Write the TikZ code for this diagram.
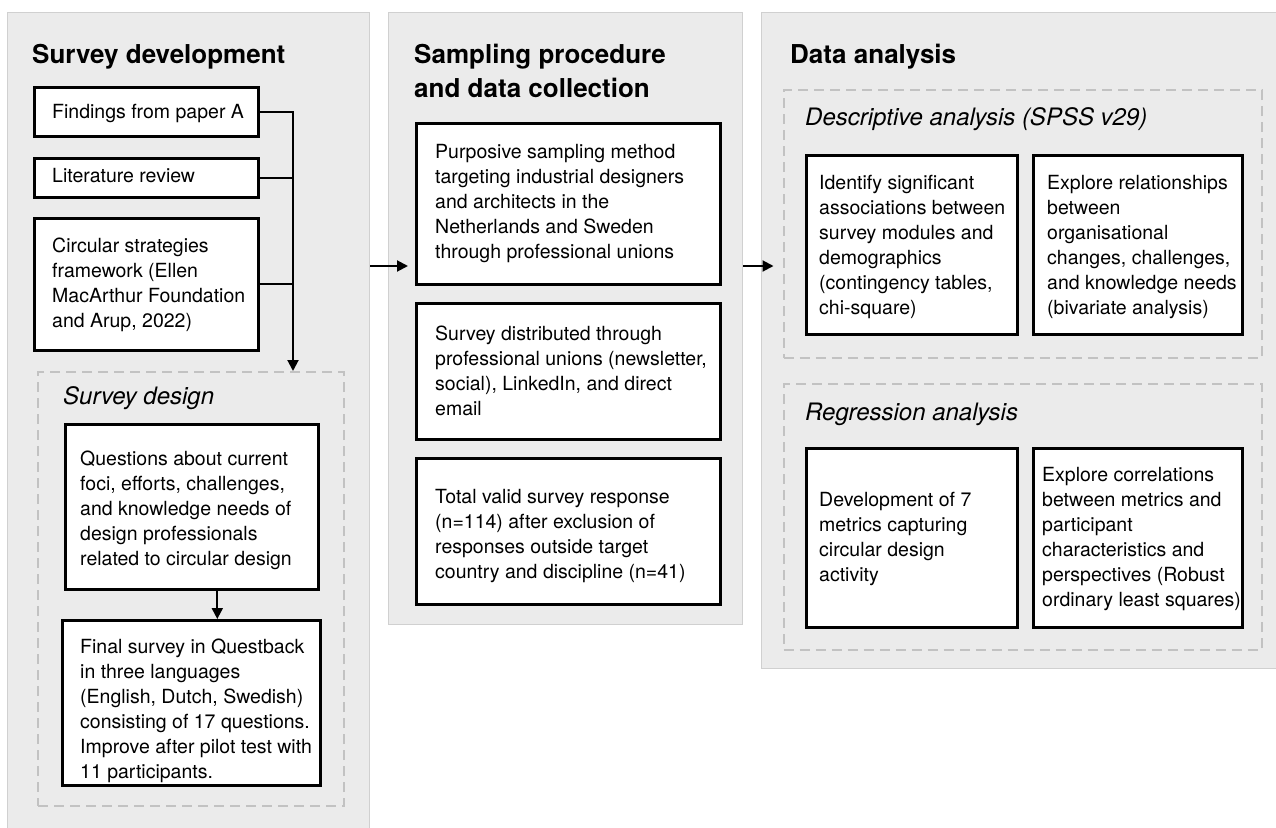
\documentclass[tikz,border=0pt]{standalone}
\usepackage{fontspec}
\setmainfont{TeX Gyre Heros}
\usetikzlibrary{arrows.meta}

\definecolor{panelfill}{HTML}{EBEBEB}
\definecolor{panelline}{HTML}{D0D0D0}
\definecolor{dashline}{HTML}{C2C2C2}

% stack of left-aligned lines whose baseline is the first line's baseline
\newcommand\linestack[1]{\vtop{\let\\\cr\halign{##\hfil\cr#1\crcr}}}

\begin{document}
\begin{tikzpicture}[x=1pt,y=-1pt,
  panelbox/.style={draw=panelline, line width=1.2pt, fill=panelfill, anchor=north west, inner sep=0pt},
  groupbox/.style={draw=dashline, line width=2pt, dash pattern=on 10pt off 6pt, anchor=north west, inner sep=0pt},
  stepbox/.style={draw=black, line width=2.6pt, fill=white, anchor=north west, inner sep=0pt},
  headtext/.style={font=\fontsize{26}{34}\selectfont\bfseries, anchor=base west, inner sep=0pt},
  subtext/.style={font=\fontsize{24}{28}\selectfont\itshape, anchor=base west, inner sep=0pt},
  bodytext/.style={font=\fontsize{19.5}{25}\selectfont, anchor=base west, inner sep=0pt},
  linkline/.style={line width=2pt, draw=black},
  arrowline/.style={linkline, -{Triangle[length=11pt,width=11pt]}}
]
\useasboundingbox (0,0) rectangle (1276,827);
\clip (0,0) rectangle (1276,827);
\fill[white] (0,0) rectangle (1276,827);

% ---- column panels ----
\node[panelbox, minimum width=362pt, minimum height=830pt] (P1) at (7,12) {};
\node[panelbox, minimum width=354pt, minimum height=612pt] (P2) at (388,12) {};
\node[panelbox, minimum width=520pt, minimum height=656pt] (P3) at (761,12) {};

\node[headtext] (h1) at (32,63) {Survey development};
\node[headtext] (h2) at (414,63) {\linestack{Sampling procedure\\and data collection}};
\node[headtext] (h3) at (790,63) {Data analysis};

% ---- survey development ----
\node[stepbox, minimum width=224pt, minimum height=49pt] (A) at (33,86) {};
\node[stepbox, minimum width=224pt, minimum height=39pt] (B) at (33,157) {};
\node[stepbox, minimum width=224pt, minimum height=132pt] (C) at (33,217) {};
\node[bodytext] (tA) at (52,118) {Findings from paper A};
\node[bodytext] (tB) at (52,182) {Literature review};
\node[bodytext] (tC) at (52,252) {\linestack{Circular strategies\\framework (Ellen\\MacArthur Foundation\\and Arup, 2022)}};

\node[groupbox, minimum width=306pt, minimum height=434pt] (SD) at (37,371) {};
\node[subtext] (sSD) at (63,404) {Survey design};
\node[stepbox, minimum width=253pt, minimum height=165pt] (Q) at (64,423) {};
\node[stepbox, minimum width=258pt, minimum height=165pt] (F) at (61,619) {};
\node[bodytext] (tQ) at (80,465) {\linestack{Questions about current\\foci, efforts, challenges,\\and knowledge needs of\\design professionals\\related to circular design}};
\node[bodytext] (tF) at (80,653) {\linestack{Final survey in Questback\\in three languages\\(English, Dutch, Swedish)\\consisting of 17 questions.\\Improve after pilot test with\\11 participants.}};

% ---- sampling procedure ----
\node[stepbox, minimum width=304pt, minimum height=161pt] (S1) at (415,122) {};
\node[stepbox, minimum width=304pt, minimum height=136pt] (S2) at (415,302) {};
\node[stepbox, minimum width=304pt, minimum height=146pt] (S3) at (415,457) {};
\node[bodytext] (tS1) at (435,158) {\linestack{Purposive sampling method\\targeting industrial designers\\and architects in the\\Netherlands and Sweden\\through professional unions}};
\node[bodytext] (tS2) at (435,340) {\linestack{Survey distributed through\\professional unions (newsletter,\\social), LinkedIn, and direct\\email}};
\node[bodytext] (tS3) at (435,503) {\linestack{Total valid survey response\\(n=114) after exclusion of\\responses outside target\\country and discipline (n=41)}};

% ---- data analysis ----
\node[groupbox, minimum width=478pt, minimum height=268pt] (DD) at (782.5,89) {};
\node[subtext] (sDD) at (805,125) {Descriptive analysis (SPSS v29)};
\node[stepbox, minimum width=211pt, minimum height=179pt] (D1) at (805,154) {};
\node[stepbox, minimum width=209pt, minimum height=179pt] (D2) at (1032,154) {};
\node[bodytext] (tD1) at (819,189) {\linestack{Identify significant\\associations between\\survey modules and\\demographics\\(contingency tables,\\chi-square)}};
\node[bodytext] (tD2) at (1047,189) {\linestack{Explore relationships\\between\\organisational\\changes, challenges,\\and knowledge needs\\(bivariate analysis)}};

\node[groupbox, minimum width=478pt, minimum height=266pt] (RD) at (782.5,383) {};
\node[subtext] (sRD) at (805,420) {Regression analysis};
\node[stepbox, minimum width=211pt, minimum height=179pt] (R1) at (805,447) {};
\node[stepbox, minimum width=209pt, minimum height=179pt] (R2) at (1032,447) {};
\node[bodytext] (tR1) at (819,506) {\linestack{Development of 7\\metrics capturing\\circular design\\activity}};
\node[bodytext] (tR2) at (1042,481) {\linestack{Explore correlations\\between metrics and\\participant\\characteristics and\\perspectives (Robust\\ordinary least squares)}};

% ---- connectors ----
\coordinate (trunk) at (293,0);
\coordinate (flow) at (0,266);
\draw[arrowline] (A.east) -- (A.east -| trunk) -- (SD.north -| trunk);
\draw[linkline] (B.east) -- (B.east -| trunk);
\draw[linkline] (C.east) -- (C.east -| trunk);
\draw[arrowline] ([xshift=25.5pt]Q.south) -- ([xshift=25.5pt]Q.south |- F.north);
\draw[arrowline] (P1.east |- flow) -- ([xshift=-7pt]S1.west |- flow);
\draw[arrowline] (P2.east |- flow) -- ([xshift=-9pt]DD.west |- flow);
\end{tikzpicture}
\end{document}
